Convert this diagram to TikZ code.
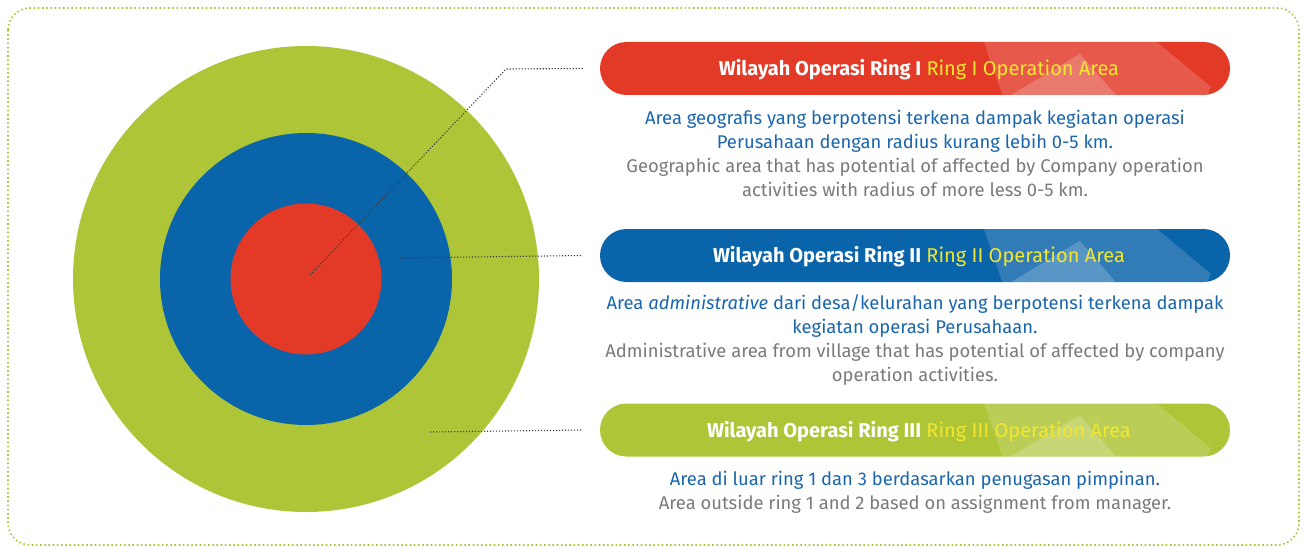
\documentclass[tikz,border=0pt]{standalone}
\usepackage{fontspec}
\setmainfont{Fira Sans}
\usetikzlibrary{calc}
\definecolor{ringred}{HTML}{E33A28}
\definecolor{ringblue}{HTML}{0A64AA}
\definecolor{ringgreen}{HTML}{ADC537}
\definecolor{headyellow}{HTML}{F2E62E}
\definecolor{txtblue}{HTML}{1A66AD}
\definecolor{txtgray}{HTML}{7A7A7A}
\definecolor{leader}{HTML}{3A3A3A}
\tikzset{
  ring/.style={circle, inner sep=0pt, fill=#1, draw=none},
  pillbox/.style={rectangle, rounded corners=26.5pt, minimum width=630pt, minimum height=53pt, fill=#1, draw=none, inner sep=0pt},
  headtext/.style={text=white, inner sep=0pt, font=\fontsize{20}{24}\selectfont},
  leaderline/.style={draw=leader, line width=1.1pt, dash pattern=on 1.1pt off 1.9pt},
  bodytext/.style={align=center, font=\fontsize{18.4}{24}\selectfont, inner sep=0pt, anchor=north},
}
\newcommand\pillshine[1]{%
  \begin{scope}
    \clip[rounded corners=26.5pt] (#1.north west) rectangle (#1.south east);
    \fill[white, opacity=0.16] ($(#1.north west)+(384,0)$) -- ($(#1.north west)+(557,0)$) -- ($(#1.north west)+(611,45)$) -- ($(#1.north west)+(604,60)$) -- ($(#1.north west)+(405,60)$) .. controls ($(#1.north west)+(395,30)$) .. cycle;
    \fill[white, opacity=0.2] ($(#1.north west)+(480,12)$) -- ($(#1.north west)+(522,60)$) -- ($(#1.north west)+(400,60)$) -- cycle;
  \end{scope}}
\begin{document}
\begin{tikzpicture}[x=1pt,y=-1pt]
\useasboundingbox (0,0) rectangle (1306,548);
\draw[ringgreen, line width=1.6pt, dash pattern=on 1.6pt off 2.6pt, rounded corners=22pt] (8,8) rectangle (1299,545);

\node[ring=ringgreen, minimum size=466pt] (outer) at (306,279) {};
\node[ring=ringblue, minimum size=292pt] (middle) at (306,279) {};
\node[ring=ringred, minimum size=151pt] (inner) at (306,279) {};

\node[pillbox=ringred] (p1) at (915,68.5) {};
\pillshine{p1}
\node[headtext] (h1) at ([xshift=4pt,yshift=-1.5pt]p1.center) {\textbf{Wilayah Operasi Ring I} \textcolor{headyellow}{Ring I Operation Area}};

\node[pillbox=ringblue] (p2) at (915,255.5) {};
\pillshine{p2}
\node[headtext] (h2) at ([xshift=4pt,yshift=-1.5pt]p2.center) {\textbf{Wilayah Operasi Ring II} \textcolor{headyellow}{Ring II Operation Area}};

\node[pillbox=ringgreen] (p3) at (915,430) {};
\pillshine{p3}
\node[headtext] (h3) at ([xshift=4pt,yshift=-1.5pt]p3.center) {\textbf{Wilayah Operasi Ring III} \textcolor{headyellow}{Ring III Operation Area}};

\coordinate (s1) at (310,275);
\coordinate (b1) at (506,69);
\coordinate (s2) at (400,258);
\coordinate (s3) at (430,432);
\draw[leaderline] (s1) -- (b1) -- ([xshift=-17pt]p1.west);
\draw[leaderline] (s2) -- ([xshift=-17pt]p2.west);
\draw[leaderline] (s3) -- ([xshift=-17pt]p3.west);

\node[bodytext] (t1) at (915,109.5) {\textcolor{txtblue}{Area geografis yang berpotensi terkena dampak kegiatan operasi}\\
\textcolor{txtblue}{Perusahaan dengan radius kurang lebih 0-5 km.}\\
\textcolor{txtgray}{Geographic area that has potential of affected by Company operation}\\
\textcolor{txtgray}{activities with radius of more less 0-5 km.}};

\node[bodytext] (t2) at (915,294.5) {\textcolor{txtblue}{Area \textit{administrative} dari desa/kelurahan yang berpotensi terkena dampak}\\
\textcolor{txtblue}{kegiatan operasi Perusahaan.}\\
\textcolor{txtgray}{Administrative area from village that has potential of affected by company}\\
\textcolor{txtgray}{operation activities.}};

\node[bodytext] (t3) at (915,471) {\textcolor{txtblue}{Area di luar ring 1 dan 3 berdasarkan penugasan pimpinan.}\\
\textcolor{txtgray}{Area outside ring 1 and 2 based on assignment from manager.}};
\end{tikzpicture}
\end{document}
